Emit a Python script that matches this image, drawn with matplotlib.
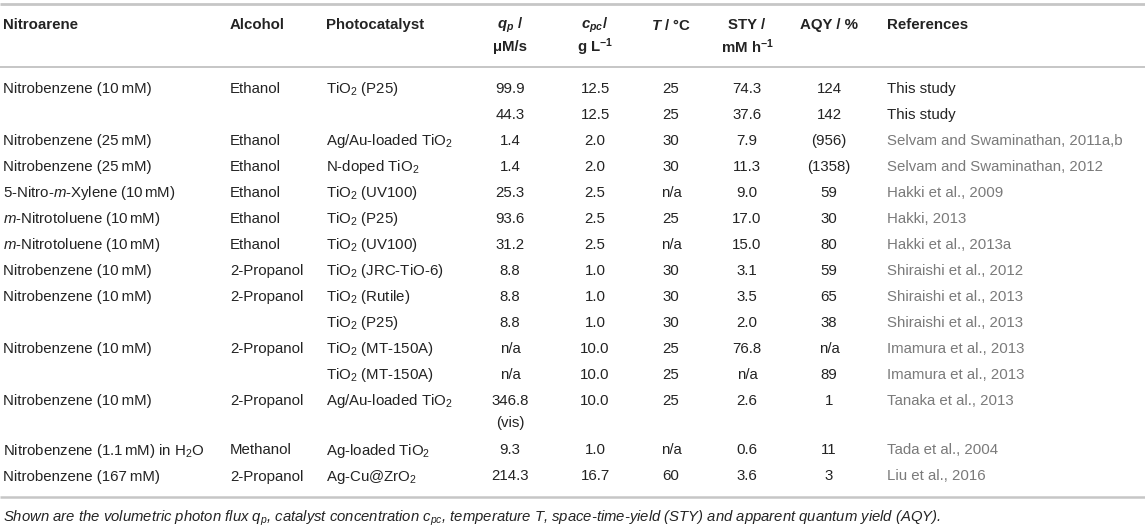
import matplotlib
matplotlib.use("Agg")
import matplotlib.pyplot as plt

# --- fonts ---
plt.rcParams['font.family'] = ['Liberation Sans', 'DejaVu Sans']
plt.rcParams['mathtext.fontset'] = 'custom'
plt.rcParams['mathtext.rm'] = 'Liberation Sans'
plt.rcParams['mathtext.it'] = 'Liberation Sans:italic'
plt.rcParams['mathtext.bf'] = 'Liberation Sans:bold'
plt.rcParams['mathtext.bfit'] = 'Liberation Sans:italic:bold'

# --- table data ---
nitroarene = ["Nitrobenzene (10\u2009mM)", "", "Nitrobenzene (25\u2009mM)", "Nitrobenzene (25\u2009mM)",
              r"5-Nitro-$m$-Xylene (10$\,$mM)", r"$m$-Nitrotoluene (10$\,$mM)", r"$m$-Nitrotoluene (10$\,$mM)",
              "Nitrobenzene (10\u2009mM)", "Nitrobenzene (10\u2009mM)", "",
              "Nitrobenzene (10\u2009mM)", "", "Nitrobenzene (10\u2009mM)",
              r"Nitrobenzene (1.1$\,$mM) in H$_2$O", "Nitrobenzene (167\u2009mM)"]
alcohol = ["Ethanol", "", "Ethanol", "Ethanol", "Ethanol", "Ethanol", "Ethanol",
           "2-Propanol", "2-Propanol", "", "2-Propanol", "", "2-Propanol", "Methanol", "2-Propanol"]
catalyst = [r"TiO$_2$ (P25)", r"", r"Ag/Au-loaded TiO$_2$", r"N-doped TiO$_2$", r"TiO$_2$ (UV100)",
            r"TiO$_2$ (P25)", r"TiO$_2$ (UV100)", r"TiO$_2$ (JRC-TiO-6)", r"TiO$_2$ (Rutile)",
            r"TiO$_2$ (P25)", r"TiO$_2$ (MT-150A)", r"TiO$_2$ (MT-150A)", r"Ag/Au-loaded TiO$_2$",
            r"Ag-loaded TiO$_2$", r"Ag-Cu@ZrO$_2$"]
qp = ["99.9", "44.3", "1.4", "1.4", "25.3", "93.6", "31.2", "8.8", "8.8", "8.8",
      "n/a", "n/a", "346.8", "9.3", "214.3"]
qp_note = {12: "(vis)"}
cpc = ["12.5", "12.5", "2.0", "2.0", "2.5", "2.5", "2.5", "1.0", "1.0", "1.0",
       "10.0", "10.0", "10.0", "1.0", "16.7"]
temp = ["25", "25", "30", "30", "n/a", "25", "n/a", "30", "30", "30",
        "25", "25", "25", "n/a", "60"]
sty = ["74.3", "37.6", "7.9", "11.3", "9.0", "17.0", "15.0", "3.1", "3.5", "2.0",
       "76.8", "n/a", "2.6", "0.6", "3.6"]
aqy = ["124", "142", "(956)", "(1358)", "59", "30", "80", "59", "65", "38",
       "n/a", "89", "1", "11", "3"]
refs = ["This study", "This study", "Selvam and Swaminathan, 2011a,b",
        "Selvam and Swaminathan, 2012", "Hakki et al., 2009", "Hakki, 2013",
        "Hakki et al., 2013a", "Shiraishi et al., 2012", "Shiraishi et al., 2013",
        "Shiraishi et al., 2013", "Imamura et al., 2013", "Imamura et al., 2013",
        "Tanaka et al., 2013", "Tada et al., 2004", "Liu et al., 2016"]

headers_1 = ["Nitroarene", "Alcohol", "Photocatalyst", r"$\mathbfit{q_p}$ /", r"$\mathbfit{c_{pc}}$/",
             r"$\mathbfit{T}$ / °C", "STY /", "AQY / %", "References"]
headers_2 = ["", "", "", "\u03bcM/s", r"g L$^{\mathbf{-1}}$", "", r"mM h$^{\mathbf{-1}}$", "", ""]

caption = (r"Shown are the volumetric photon flux $q_p$, catalyst concentration $c_{pc}$, "
           r"temperature $T$, space-time-yield (STY) and apparent quantum yield (AQY).")

# --- layout (pixels) ---
W, H = 1145, 531
col_x = [3, 230, 326, 510, 595, 671, 747, 829, 887]
col_ha = ["left", "left", "left", "center", "center", "center", "center", "center", "left"]
row0 = 89
row_step = 26
extra_after = {12: 23.5}
fs = 10.8
txt_col = "#232323"
ref_col = "#7a7a7a"
rule_col = "#c6c6c6"

fig = plt.figure(figsize=(W / 100, H / 100), dpi=100)
ax = fig.add_axes([0, 0, 1, 1])
ax.set_xlim(0, W)
ax.set_ylim(H, 0)
ax.axis("off")

# rules
ax.plot([0, W], [4, 4], color=rule_col, lw=2.0, solid_capstyle="butt")
ax.plot([0, W], [67, 67], color=rule_col, lw=1.4, solid_capstyle="butt")
ax.plot([0, W], [497, 497], color=rule_col, lw=1.8, solid_capstyle="butt")

# headers
for x, ha, h1, h2 in zip(col_x, col_ha, headers_1, headers_2):
    ax.text(x, 25, h1, ha=ha, va="center", fontsize=fs, fontweight="bold", color=txt_col)
    if h2:
        ax.text(x, 47, h2, ha=ha, va="center", fontsize=fs, fontweight="bold", color=txt_col)

# body
y = row0
columns = [nitroarene, alcohol, catalyst, qp, cpc, temp, sty, aqy, refs]
for i in range(len(qp)):
    for c, (x, ha, col) in enumerate(zip(col_x, col_ha, columns)):
        s = col[i]
        if not s:
            continue
        color = txt_col
        if c == 8 and s != "This study":
            color = ref_col
        ax.text(x, y, s, ha=ha, va="center", fontsize=fs, color=color)
    if i in qp_note:
        ax.text(col_x[3], y + 22, qp_note[i], ha="center", va="center", fontsize=fs, color=txt_col)
    y += row_step + extra_after.get(i, 0)

ax.text(3, 518, caption, ha="left", va="center", fontsize=10.7, style="italic", color=txt_col)

fig.savefig("out.png", dpi=100)
